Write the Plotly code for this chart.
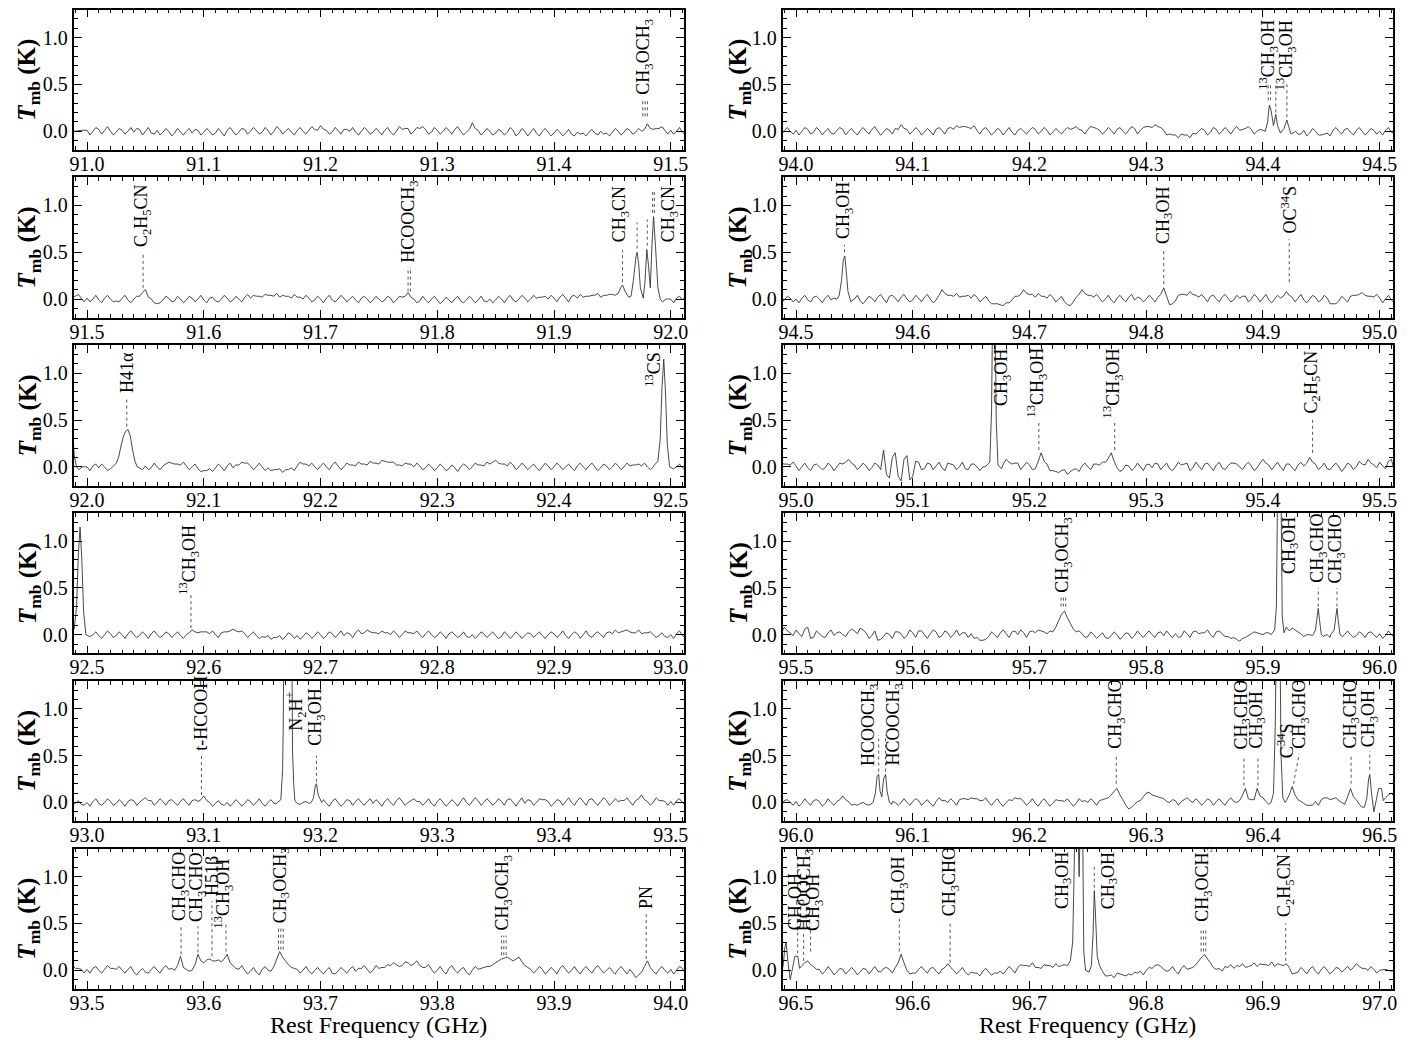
import plotly.graph_objects as go

# ---------------- data ----------------
STARTS = [91.0, 91.5, 92.0, 92.5, 93.0, 93.5, 94.0, 94.5, 95.0, 95.5, 96.0, 96.5]
STEP = 0.005  # GHz; even channels at x0 + k*STEP, odd channels half a step later

# even-channel intensities (units of 0.01 K), 100 per panel
B1 = [1,0,2,1,0,-1,1,0,-1,2, 0,-2,1,-1,0,-2,-1,0,-2,1, -1,0,-2,-1,1,0,-1,2,0,1, -1,1,0,2,0,-1,1,0,1,2,
      6,1,-1,1,2,0,-1,0,1,-1, 0,1,-1,0,2,3,0,3,2,-1, 1,0,1,2,0,-1,9,1,-1,0, -2,0,-1,1,-2,0,-1,-2,0,-1,
      -2,-1,-2,-3,-1,-2,-1,-2,0,-2, -1,0,-1,1,-1,0,8,2,3,1]
B2 = [1,0,-1,1,0,-2,1,-1,0,3, 10,0,-5,-1,1,-2,0,-1,1,0, -1,1,-2,0,1,-1,0,2,1,3, 2,4,3,2,3,1,2,0,1,-1,
      0,1,-1,0,1,0,-1,1,0,-1, 0,-1,1,-1,2,7,0,-2,-1,0, -1,-2,-1,0,-2,-1,0,-1,-2,0, -1,0,1,-1,0,1,0,1,2,0,
      1,2,1,3,1,2,3,4,2,4, 5,4,6,3,5,4,3,2,1,0]
B3 = [0,1,-1,0,-2,1,0,-1,2,0, 1,-1,0,1,5,3,2,1,0,-2, -4,-2,-1,0,1,-1,2,4,1,0, 0,-1,-3,-2,-3,-1,1,3,1,0,
      1,0,2,1,0,2,1,3,2,4, 3,6,5,2,1,3,0,1,-1,0, -1,0,-2,-1,0,1,0,2,1,3, 7,3,1,2,0,1,0,-1,0,1,
      0,1,0,-1,1,0,1,0,-1,1, 0,1,0,1,2,1,0,0,-1,0]
B4 = [-1,0,-1,0,1,-1,0,1,0,-1, 0,1,0,-1,1,0,-1,0,5,2, 3,1,0,2,3,6,3,1,0,-1, -2,-1,-3,-1,-2,0,-1,-2,0,-1,
      0,-1,1,0,-1,1,2,1,5,2, 1,2,0,1,0,2,1,0,1,0, -1,0,1,0,-1,-2,0,-1,1,0, -1,-2,0,-1,0,-1,1,0,-1,0,
      1,0,-1,0,1,0,-1,1,0,2, 1,2,4,3,2,1,2,0,-1,-2]
B5 = [0,1,-1,0,1,-1,0,1,2,0, 5,2,0,1,2,0,1,0,2,1, 7,0,-1,-2,0,-1,0,-1,1,0, -1,0,-1,0,1,0,-1,0,-1,0,
      0,-1,1,0,-1,2,1,0,1,-1, 0,1,0,2,1,0,4,1,0,-1, 1,0,-1,0,1,0,1,2,0,1, 0,1,3,0,1,-1,2,0,3,1,
      -1,2,1,0,2,1,3,0,1,2, 0,1,2,1,2,8,1,0,2,1]
B6 = [1,2,0,1,2,1,0,1,-2,-1, -2,1,0,2,1,0,15,1,0,17, 8,12,10,9,17,5,1,0,-1,-2, 1,0,4,20,10,3,1,0,-1,0,
      -1,0,-3,-1,0,1,-1,2,1,0, 2,3,5,6,5,8,7,5,3,1, 0,-1,2,0,1,-2,0,1,3,4, 8,12,14,10,14,5,1,0,1,-1,
      0,2,1,0,-1,1,0,2,1,0, -1,1,0,1,-8,-2,10,-1,1,0]
B7 = [1,0,2,-1,1,0,-2,1,2,0, -1,1,0,2,0,-1,1,3,7,2, 0,1,-1,0,2,1,3,2,4,5, 3,1,2,0,-1,1,0,-1,1,0,
      1,2,0,1,-1,0,1,2,5,1, 2,4,1,0,1,2,0,1,3,1, 5,4,5,1,-3,-4,-3,-4,-2,0, 1,-1,2,0,1,2,1,3,2,0,
      1,0,3,0,1,0,-3,1,-2,0, -4,-2,1,0,2,-1,1,0,-1,1]
B8 = [0,1,-1,2,0,1,-1,0,0,0, 0,-2,-1,1,2,0,3,1,2,0, -1,1,2,0,-1,10,4,3,2,3, 1,2,0,-2,-5,-6,-4,-1,3,10,
      5,2,3,1,2,0,-3,-7,2,10, 4,2,1,0,-1,1,0,2,-1,1, 0,1,2,12,-6,-2,5,4,5,2, 1,3,0,2,1,-1,1,3,0,2,
      1,-1,0,1,8,2,1,-1,0,2, -1,1,-5,-2,0,3,4,7,3,2]
B9 = [1,0,-1,2,0,-1,1,0,3,8, 2,0,1,-1,2,18,-12,15,-15,12, -10,5,-2,3,1,-1,4,2,0,-2, 3,0,0,0,0,2,8,3,4,1,
      2,-2,15,3,-4,-6,-3,-5,-2,1, 0,3,2,5,15,-1,-3,1,-1,0, 2,-1,3,1,-2,0,2,4,-1,1, 3,0,2,-1,1,4,0,2,1,-1,
      8,2,1,0,3,-1,2,1,10,3, 0,-2,1,0,-1,2,0,3,8,2]
B10 = [5,-2,8,-3,1,-3,5,2,0,3, 4,7,2,-1,-6,-2,0,3,1,-1, 2,4,0,1,3,-1,2,0,-1,2, 1,-3,-6,-2,0,2,1,3,0,2,
       3,2,4,1,3,15,25,12,3,1, -2,0,-1,-3,-1,0,-2,1,-1,0, 1,0,2,-1,0,1,-2,1,3,1, 2,0,3,1,-2,-3,-7,-3,1,2,
       0,2,0,0,8,7,3,-2,0,1, 0,0,0,0,0,0,-1,1,2,0]
B11 = [1,-1,0,2,1,-1,0,1,7,1, -2,-1,-2,-1,0,0,0,0,0,0, 1,2,0,-1,1,2,0,1,3,4, 5,4,2,0,1,-1,0,2,4,1,
       0,-1,1,0,-1,2,1,0,-1,1, 0,1,2,4,8,15,3,-7,-2,2, 10,8,6,4,0,2,1,5,0,1, 0,2,1,0,2,1,2,15,3,15,
       5,-2,0,0,2,17,3,-1,-3,1, 3,5,4,2,-2,15,3,-5,0,0]
B12 = [0,5,10,4,1,-1,0,-2,1,-1, 0,-2,1,0,-1,2,1,3,17,0, -3,1,0,2,-1,1,7,0,-1,-2, -2,-3,-1,-2,-3,-1,0,1,3,5,
       4,3,2,5,3,4,6,0,0,0, 0,0,0,-6,-5,-3,-5,-4,-2,-1, 0,2,6,1,0,-1,2,1,3,10, 17,8,1,-1,3,2,4,3,5,4,
       6,5,4,6,7,-4,-2,0,1,-1, 1,0,-1,2,1,0,7,2,0,1]

# odd-channel intensities (units of 0.01 K), 100 per panel
O1 = [-4,4,-3,5,-4,3,-3,4,3,-4, 4,-3,-4,3,-5,3,-4,3,2,-4, 3,-4,3,-5,4,-4,3,-3,4,-3, 4,-4,5,-3,3,-4,4,-3,5,1,
      2,-3,4,-3,2,4,-4,4,-3,3, -4,4,-4,5,3,-3,4,5,-3,4, -3,4,-3,5,-4,2,3,-4,3,-4, 2,-4,4,-5,3,-5,3,-5,3,-5,
      2,-5,2,-5,-3,-5,2,-4,-3,-5, 3,-4,3,-3,3,2,3,3,5,-3]
O2 = [-3,4,-4,4,-3,-3,4,-4,3,7, 2,-4,-4,3,-3,3,-4,3,-3,4, -4,2,-3,4,-3,3,-3,5,4,3, 5,4,6,4,3,5,2,4,-3,3,
      -4,4,-3,4,-3,3,-4,3,-4,3, -3,3,-4,3,3,2,-4,3,-4,3, -5,2,-4,3,-4,3,-4,3,-3,-4, 3,-4,4,-3,4,-3,4,2,3,4,
      -3,5,-3,4,5,3,4,6,4,5, 6,0,0,0,0,0,0,0,0,0]
O3 = [-4,3,3,-4,-1,0,0,0,0,-3, -3,4,-3,3,4,3,5,-3,3,-5, -4,-5,3,-4,4,2,5,4,-3,4, -4,-4,-3,-6,-3,-4,5,3,4,-3,
      4,-3,5,-3,4,2,5,3,6,4, 7,5,5,2,4,3,4,-3,3,-4, 3,-4,2,-5,3,-3,4,2,5,5, 4,3,5,-3,4,-3,3,-4,4,-3,
      4,-3,3,-4,4,-3,4,-4,3,-3, 4,-3,4,2,3,4,-3,1,0,0]
O4 = [-2,3,-4,4,-3,3,-4,4,-3,3, -4,4,-3,3,-3,3,-4,2,3,3, 3,4,-3,3,4,4,4,-3,3,-4, -3,-5,-3,-5,2,-4,-5,2,-4,3,
      -4,3,-3,4,2,-3,5,2,3,2, 4,2,4,-3,4,2,4,-3,4,-3, 3,-4,3,-3,3,-3,-4,3,-3,3, -4,3,-4,3,-4,2,-3,3,-4,3,
      -3,4,-4,3,-4,4,-3,3,-3,3, 5,3,5,2,5,2,3,-3,2,-3]
O5 = [-4,4,-3,4,-3,3,-4,3,-3,3, 2,-3,4,-3,3,-3,4,-3,3,3, 2,-4,2,-3,-4,3,-4,3,-3,4, -4,3,-1,-1,0,0,-2,1,2,-2,
      3,-4,4,-4,3,-3,4,-3,4,3, -4,4,-3,5,-3,2,1,-3,4,-4, 4,-4,3,-4,5,-3,5,-3,4,-3, 4,-3,4,-4,5,3,-3,4,3,-4,
      3,-3,5,-3,5,-3,4,-3,5,-3, 4,2,5,-3,4,3,-3,5,2,-3]
O6 = [-3,4,-3,5,2,4,-3,4,-5,2, -3,4,-3,5,2,5,3,-1,6,10, 11,10,11,12,8,2,5,-4,3,-5, 4,-1,12,14,6,2,-3,4,-4,3,
      -4,3,-4,3,-3,4,2,5,-3,5, 3,6,8,4,9,5,10,3,6,-3, 4,-4,5,-3,3,-5,4,2,4,6, 10,13,12,12,9,3,-3,4,-4,3,
      -4,5,-3,4,-4,4,-3,5,-3,3, -4,4,-4,-3,-5,4,3,-4,4,-3]
O7 = [-4,4,-3,4,-4,3,-3,4,-4,3, -4,4,-3,5,-4,3,-3,2,3,-3, 4,-4,3,-4,4,-3,4,6,5,4, 6,-3,4,-4,3,-4,4,-4,3,-3,
      4,-3,4,-4,3,-3,4,3,2,-3, 5,3,-3,4,-3,4,-3,5,-3,4, 5,7,4,-4,-4,-7,-4,-7,-3,3, -4,4,-3,4,-3,5,2,5,-3,2,
      0,0,0,0,0,0,-3,-5,3,-4, -3,-5,4,-3,3,-4,4,-4,3,-3]
O8 = [-4,4,-3,3,-4,4,1,0,0,-2, 4,-5,3,-3,5,-4,4,-3,5,-3, 4,-3,5,-4,4,6,4,6,3,4, 5,-3,3,-5,-5,-7,-4,3,5,6,
      5,6,3,5,-3,3,-6,-3,5,6, 4,5,-3,4,-4,4,-3,5,2,-3, 4,-3,5,3,-5,4,5,8,4,5, -3,4,-3,5,-3,4,3,-3,5,-3,
      5,-4,4,3,4,-3,5,-4,4,-3, 4,-5,-5,3,-3,4,5,4,3,5]
O9 = [-4,4,-4,3,-3,4,-4,4,5,4, -3,4,-4,4,-3,-8,10,-10,8,-14, 6,-3,4,-3,5,-4,3,-3,5,-3, 3,-4,0,0,0,3,5,4,-3,5,
      -3,6,6,-4,-5,-4,-8,-3,-5,4, -3,3,5,9,6,-5,2,-4,4,-4, 3,4,-3,4,-4,5,3,-4,5,-3, 4,-4,5,-3,4,3,-3,5,-4,4,
      4,-3,5,-4,3,-4,5,4,5,-3, 4,-3,4,-5,4,-3,6,2,4,-1]
O10 = [1,6,-4,4,-2,2,-1,3,-2,6, 1,5,-4,4,-5,2,-4,3,-4,5, -3,4,-4,5,-3,4,-3,5,2,-3, -4,-6,-5,3,-3,5,-3,4,5,-3,
       4,5,3,4,8,22,18,6,4,-3, 3,-4,2,-4,3,-5,2,-4,4,-3, 4,-3,3,4,-3,-3,4,-3,4,2, 5,-3,4,-2,-4,-5,-4,-1,3,1,
       2,0,0,0,4,5,1,0,-1,0, -1,-3,0,0,4,-3,3,-3,3,-3]
O11 = [-4,4,-3,3,-4,4,-3,3,3,-3, -3,0,-3,0,0,0,1,-3,4,-3, 4,-3,3,-4,5,2,4,-3,4,3, 4,2,5,-3,4,-4,3,5,4,-3,
       4,-4,4,-4,3,2,4,-4,4,2, 4,-3,3,5,12,8,-3,-5,1,6, 11,7,5,1,3,-3,3,2,4,-3, 4,-3,4,-3,5,0,8,4,3,7,
       1,0,0,0,8,8,1,-3,-3,-3, 5,3,5,0,6,6,-2,0,0,0]
O12 = [0,8,6,1,-4,4,-5,2,-4,3, -5,2,-4,4,-2,3,-3,8,8,-4, -3,4,-3,3,-4,3,3,-4,3,-5, -3,-6,2,-5,-3,-4,4,-3,6,5,
       8,3,6,5,7,5,0,0,0,0, 0,0,-1,-6,-8,-4,-6,-5,-3,-5, 3,5,4,-1,4,-4,5,2,6,14, 12,3,2,4,6,5,7,4,8,7,
       6,9,7,5,3,-3,3,-4,4,-4, 4,-4,3,-2,4,3,4,2,4,-3]
BASE = [B1, B2, B3, B4, B5, B6, B7, B8, B9, B10, B11, B12]
ODD = [O1, O2, O3, O4, O5, O6, O7, O8, O9, O10, O11, O12]

EDGE_F = [90.985, 90.99, 90.995, 97.0, 97.005, 97.01, 97.015]
EDGE_T = [0.01, 0.0, 0.01, 0.0, 0.01, -0.01, 0.0]

# resolved line profiles (GHz, K)
CH3CN_F = [91.952, 91.955, 91.957, 91.9587, 91.961, 91.964, 91.966, 91.968, 91.9702, 91.9712, 91.9725, 91.974,
           91.9765, 91.978, 91.9795, 91.981, 91.9825, 91.984, 91.9853, 91.987, 91.989, 91.991, 91.993, 91.996]
CH3CN_T = [0.04, 0.06, 0.12, 0.15, 0.08, 0.02, 0.03, 0.2, 0.45, 0.50, 0.38, 0.12,
           0.01, 0.2, 0.53, 0.35, 0.12, 0.6, 0.88, 0.55, 0.12, 0.0, -0.03, 0.0]
H41A_F = [92.022, 92.025, 92.027, 92.029, 92.031, 92.033, 92.035, 92.037, 92.039, 92.041, 92.043, 92.046]
H41A_T = [0.0, 0.04, 0.1, 0.22, 0.32, 0.38, 0.40, 0.33, 0.18, 0.06, 0.0, -0.02]
CS13_F = [92.486, 92.489, 92.491, 92.4925, 92.494, 92.4955, 92.497, 92.499, 92.502]
CS13_T = [0.02, 0.06, 0.3, 0.85, 1.15, 0.8, 0.25, 0.0, -0.02]
N2HP_F = [93.163, 93.166, 93.1675, 93.168, 93.1685, 93.172, 93.1755, 93.176, 93.177, 93.178, 93.180]
N2HP_T = [0.0, 0.03, 0.35, 0.78, 1.6, 2.0, 1.6, 0.55, 0.2, 0.02, -0.01]
M93_F = [93.192, 93.194, 93.1955, 93.1965, 93.198, 93.201]
M93_T = [0.0, 0.05, 0.18, 0.20, 0.08, 0.0]
M13_94_F = [94.402, 94.404, 94.4055, 94.407, 94.409, 94.411, 94.4125, 94.415, 94.418, 94.4205, 94.422, 94.424, 94.428]
M13_94_T = [0.0, 0.1, 0.28, 0.22, 0.06, 0.18, 0.06, -0.02, 0.03, 0.12, 0.05, -0.03, 0.0]
M94_F = [94.535, 94.537, 94.539, 94.5405, 94.5418, 94.543, 94.5445, 94.547]
M94_T = [0.0, 0.04, 0.2, 0.42, 0.46, 0.3, 0.08, -0.03]
M95_F = [95.162, 95.166, 95.1675, 95.1685, 95.1705, 95.1715, 95.173, 95.176]
M95_T = [0.0, 0.05, 0.6, 1.8, 1.8, 0.5, 0.02, -0.02]
M959_F = [95.907, 95.910, 95.9115, 95.9125, 95.9155, 95.9165, 95.918]
M959_T = [0.0, 0.05, 0.3, 1.5, 1.5, 0.2, 0.02]
A1_F = [95.943, 95.945, 95.9465, 95.9474, 95.9485, 95.950, 95.952]
A1_T = [0.0, 0.05, 0.2, 0.28, 0.15, 0.0, -0.02]
A2_F = [95.958, 95.961, 95.9625, 95.9634, 95.9645, 95.966, 95.968]
A2_T = [0.0, 0.05, 0.2, 0.28, 0.15, 0.0, -0.02]
MF_F = [96.066, 96.068, 96.0695, 96.0708, 96.072, 96.0735, 96.075, 96.0767, 96.078, 96.080, 96.082]
MF_T = [0.0, 0.1, 0.28, 0.30, 0.12, 0.06, 0.25, 0.30, 0.12, 0.0, -0.02]
C34S_F = [96.407, 96.409, 96.4105, 96.4115, 96.4145, 96.4155, 96.417, 96.419]
C34S_T = [0.0, 0.1, 0.8, 1.8, 1.8, 0.5, 0.05, 0.0]
M965_F = [96.487, 96.489, 96.4905, 96.4915, 96.493, 96.495, 96.497, 96.499, 96.5015, 96.503]
M965_T = [-0.05, 0.05, 0.25, 0.30, 0.1, -0.1, 0.02, 0.15, 0.15, 0.02]
M967_F = [96.7325, 96.735, 96.737, 96.738, 96.739, 96.7415, 96.7425, 96.7435, 96.7455, 96.7465,
          96.748, 96.751, 96.753, 96.7545, 96.7555, 96.7565, 96.758, 96.760, 96.762]
M967_T = [0.05, 0.1, 0.3, 0.9, 1.6, 1.6, 1.0, 1.6, 1.6, 0.2,
          0.0, -0.02, 0.05, 0.4, 0.85, 0.6, 0.15, 0.05, 0.0]
GROUPS = [(CH3CN_F, CH3CN_T), (H41A_F, H41A_T), (CS13_F, CS13_T), (N2HP_F, N2HP_T), (M93_F, M93_T),
          (M13_94_F, M13_94_T), (M94_F, M94_T), (M95_F, M95_T), (M959_F, M959_T), (A1_F, A1_T),
          (A2_F, A2_T), (MF_F, MF_T), (C34S_F, C34S_T), (M965_F, M965_T), (M967_F, M967_T)]

# line identifications: (panel, x, label bottom, text)
CH3OH = "CH<sub>3</sub>OH"
CH3CHO = "CH<sub>3</sub>CHO"
DME = "CH<sub>3</sub>OCH<sub>3</sub>"
MF = "HCOOCH<sub>3</sub>"
EC = "C<sub>2</sub>H<sub>5</sub>CN"
M13 = "<sup>13</sup>CH<sub>3</sub>OH"
LABELS = [
    (0, 91.478, 0.37, DME),
    (1, 91.548, 0.53, EC), (1, 91.776, 0.37, MF), (1, 91.957, 0.58, "CH<sub>3</sub>CN"),
    (1, 91.999, 0.58, "CH<sub>3</sub>CN"),
    (2, 92.034, 0.77, "H41α"), (2, 92.485, 0.83, "<sup>13</sup>CS"),
    (3, 92.587, 0.40, M13),
    (4, 93.098, 0.53, "t-HCOOH"), (4, 93.179, 0.74, "N<sub>2</sub>H<sup>+</sup>"), (4, 93.197, 0.58, CH3OH),
    (5, 93.5805, 0.50, CH3CHO), (5, 93.595, 0.50, CH3CHO), (5, 93.607, 0.77, "H51β"),
    (5, 93.617, 0.42, M13), (5, 93.666, 0.48, DME), (5, 93.857, 0.40, DME), (5, 93.979, 0.63, "PN"),
    (6, 94.405, 0.42, M13), (6, 94.420, 0.42, M13),
    (7, 94.5415, 0.62, CH3OH), (7, 94.815, 0.57, CH3OH), (7, 94.9225, 0.68, "OC<sup>34</sup>S"),
    (8, 95.177, 0.63, CH3OH), (8, 95.206, 0.50, M13), (8, 95.271, 0.50, M13), (8, 95.4425, 0.55, EC),
    (9, 95.729, 0.43, DME), (9, 95.923, 0.63, CH3OH), (9, 95.9474, 0.53, CH3CHO), (9, 95.9634, 0.53, CH3CHO),
    (10, 96.0635, 0.37, MF), (10, 96.0845, 0.37, MF), (10, 96.2743, 0.55, CH3CHO), (10, 96.382, 0.55, CH3CHO),
    (10, 96.395, 0.55, CH3OH), (10, 96.420, 0.45, "C<sup>34</sup>S"), (10, 96.432, 0.55, CH3CHO),
    (10, 96.4755, 0.55, CH3CHO), (10, 96.4915, 0.57, CH3OH),
    (11, 96.500, 0.40, CH3OH), (11, 96.508, 0.40, MF), (11, 96.516, 0.40, CH3OH), (11, 96.5885, 0.58, CH3OH),
    (11, 96.632, 0.55, CH3CHO), (11, 96.729, 0.63, CH3OH), (11, 96.7685, 0.63, CH3OH),
    (11, 96.849, 0.50, DME), (11, 96.9195, 0.55, EC),
]
# dotted guide marks: (panel, freqs, y0, y1)
DOTS = [
    (0, [91.476, 91.478, 91.480], 0.16, 0.34),
    (1, [91.548], 0.12, 0.50), (1, [91.775, 91.777], 0.08, 0.34), (1, [91.9587], 0.18, 0.52),
    (1, [91.9712], 0.54, 0.82), (1, [91.9799], 0.57, 0.85), (1, [91.9845, 91.986], 0.92, 1.17),
    (2, [92.034], 0.43, 0.74),
    (3, [92.589], 0.07, 0.44),
    (4, [93.098], 0.08, 0.50), (4, [93.1965], 0.22, 0.50),
    (5, [93.5805], 0.17, 0.47), (5, [93.595], 0.19, 0.47), (5, [93.607], 0.15, 0.74), (5, [93.619], 0.20, 0.50),
    (5, [93.664, 93.666, 93.668], 0.22, 0.45), (5, [93.855, 93.857, 93.859], 0.16, 0.37), (5, [93.979], 0.12, 0.60),
    (6, [94.4045, 94.4065], 0.33, 0.50), (6, [94.411], 0.20, 0.50), (6, [94.4205], 0.15, 0.52),
    (7, [94.5415], 0.50, 0.58), (7, [94.815], 0.16, 0.54), (7, [94.9225], 0.18, 0.64),
    (8, [95.208], 0.18, 0.50), (8, [95.273], 0.18, 0.47), (8, [95.4425], 0.15, 0.52),
    (9, [95.727, 95.729, 95.731], 0.30, 0.40), (9, [95.9474], 0.30, 0.50), (9, [95.9634], 0.30, 0.50),
    (10, [96.0708, 96.0767], 0.33, 0.72), (10, [96.2743], 0.20, 0.50), (10, [96.3837], 0.18, 0.50),
    (10, [96.3957], 0.18, 0.48), (10, [96.4755], 0.20, 0.50), (10, [96.4915], 0.35, 0.55),
    (11, [96.5014], 0.18, 0.45), (11, [96.5065], 0.10, 0.42), (11, [96.5125], 0.20, 0.45),
    (11, [96.5885], 0.20, 0.55), (11, [96.632], 0.08, 0.50), (11, [96.7555], 0.88, 1.13),
    (11, [96.847, 96.849, 96.851], 0.20, 0.45), (11, [96.9195], 0.10, 0.50),
]
SLANT = [(10, 96.4262, 0.20, 96.431, 0.52)]

# ---------------- build spectrum ----------------
spans = [(min(f), max(f)) for f, _ in GROUPS]
pts = []
for x0, ev, od in zip(STARTS, BASE, ODD):
    for k, v in enumerate(ev):
        pts.append((round(x0 + STEP * k, 5), v / 100.0))
    for k, v in enumerate(od):
        pts.append((round(x0 + STEP * k + STEP / 2, 5), v / 100.0))
pts = [(f, t) for f, t in pts if not any(a <= f <= b for a, b in spans)]
for f, t in GROUPS:
    pts += list(zip(f, t))
pts += list(zip(EDGE_F, EDGE_T))
pts.sort()

# ---------------- figure ----------------
PAGE = 8                      # default page margin of the html body
FW, FH = 1419 - PAGE, 1040 - PAGE
FONT = "Liberation Serif, Times New Roman, serif"
COLS = [(70, 684), (783, 1397)]   # frame edges in page pixels
YT_X = [25, 740]                  # y-title centres in page pixels
fig = go.Figure()
layout = dict(width=FW, height=FH, margin=dict(l=0, r=0, t=0, b=0), autosize=False,
              paper_bgcolor="white", plot_bgcolor="white", showlegend=False,
              font=dict(family=FONT, color="black"))
annotations = []

for i, x0 in enumerate(STARTS):
    col, row = divmod(i, 6)
    n = i + 1
    sfx = "" if n == 1 else str(n)
    top = 9.5 + 167.8 * row - PAGE
    bot = top + 140.5
    xl, xr = COLS[col][0] - PAGE, COLS[col][1] - PAGE
    lo, hi = x0 - 0.0115, x0 + 0.5115
    seg = [(f, t) for f, t in pts if lo - 0.01 <= f <= hi + 0.01]
    fig.add_trace(go.Scatter(x=[p[0] for p in seg], y=[p[1] for p in seg], mode="lines",
                             line=dict(color="#333333", width=0.9, simplify=False),
                             xaxis="x" + sfx, yaxis="y" + sfx, hoverinfo="skip"))
    dx, dy = [], []
    for p, freqs, y0, y1 in DOTS:
        if p != i:
            continue
        for f in freqs:
            dx += [f, f, None]
            dy += [y0, y1, None]
    for p, xa, ya, xb, yb in SLANT:
        if p == i:
            dx += [xa, xb, None]
            dy += [ya, yb, None]
    if dx:
        fig.add_trace(go.Scatter(x=dx, y=dy, mode="lines", line=dict(color="#555555", width=1, dash="dot"),
                                 xaxis="x" + sfx, yaxis="y" + sfx, hoverinfo="skip"))
    layout["xaxis" + sfx] = dict(
        domain=[xl / FW, xr / FW], anchor="y" + sfx, range=[lo, hi],
        tickmode="linear", tick0=x0, dtick=0.1, tickformat=".1f",
        ticks="inside", ticklen=8, tickwidth=1, tickcolor="black", ticklabelstandoff=-5,
        minor=dict(dtick=0.01, tick0=x0, ticks="inside", ticklen=4, tickwidth=1, tickcolor="black"),
        showline=True, linewidth=1.8, linecolor="black", mirror="allticks",
        showgrid=False, zeroline=False, tickfont=dict(size=20, family=FONT, color="black"))
    layout["yaxis" + sfx] = dict(
        domain=[1 - bot / FH, 1 - top / FH], anchor="x" + sfx, range=[-0.2, 1.3],
        tickmode="array", tickvals=[0.0, 0.5, 1.0], ticktext=["0.0", "0.5", "1.0"],
        ticks="inside", ticklen=8, tickwidth=1, tickcolor="black",
        minor=dict(dtick=0.1, tick0=0, ticks="inside", ticklen=4, tickwidth=1, tickcolor="black"),
        showline=True, linewidth=1.8, linecolor="black", mirror="allticks",
        showgrid=False, zeroline=False, tickfont=dict(size=20, family=FONT, color="black"))
    # y title
    annotations.append(dict(x=(YT_X[col] - PAGE) / FW, y=1 - (top + bot) / 2 / FH, xref="paper", yref="paper",
                            text="<b><i>T</i><sub>mb</sub> (K)</b>", showarrow=False, textangle=-90,
                            xanchor="center", yanchor="middle", font=dict(size=25, family=FONT, color="black")))
    if row == 5:
        annotations.append(dict(x=((xl + xr) / 2) / FW, y=1 - (1025 - PAGE) / FH, xref="paper", yref="paper",
                                text="Rest Frequency (GHz)", showarrow=False, xanchor="center", yanchor="middle",
                                font=dict(size=24, family=FONT, color="black")))
    for p, xv, yv, txt in LABELS:
        if p != i:
            continue
        annotations.append(dict(x=xv, y=yv, xref="x" + sfx, yref="y" + sfx, text=txt, showarrow=False,
                                textangle=-90, xanchor="center", yanchor="bottom",
                                font=dict(size=18, family=FONT, color="black")))

layout["annotations"] = annotations
fig.update_layout(**layout)
fig.write_html("out.html")
